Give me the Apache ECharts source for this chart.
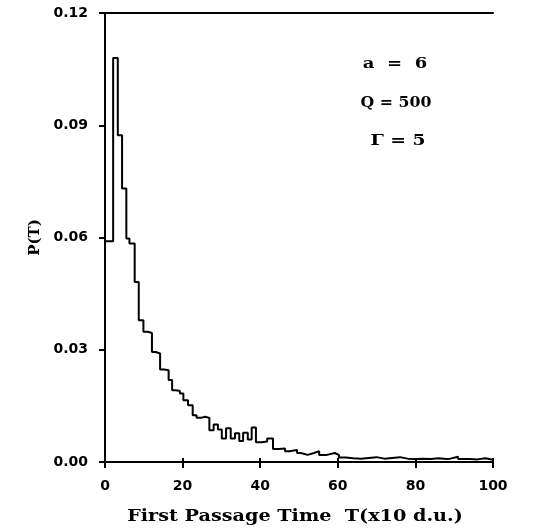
<!DOCTYPE html>
<html>
<head>
<meta charset="utf-8">
<script src="https://cdn.jsdelivr.net/npm/echarts@6/dist/echarts.min.js"></script>
<style>
html,body{margin:0;padding:0;background:#fff;}
#c{width:551px;height:532px;}
</style>
</head>
<body>
<div id="c"></div>
<script>
// bin start times (units of 10 d.u.) and probabilities
var binStart = [0, 2.1, 3.3, 4.4, 5.5, 6.3, 7.65, 8.7, 9.9, 11.0, 12.1, 13.1, 14.2, 15.3, 16.4, 17.3, 18.3, 19.3, 20.2, 21.4, 22.6, 23.6, 24.7, 25.8, 26.9, 28.0, 29.1, 30.1, 31.2, 32.4, 33.5, 34.6, 35.6, 36.8, 37.8, 38.9, 40.4, 41.8, 43.3, 44.8, 46.4, 47.5, 49.5, 50.5, 52.2, 53.9, 55.2, 57.2, 59.2, 60.3, 62, 64, 66, 68, 70, 72, 74, 76, 78, 80, 82, 84, 86, 88, 89, 91, 94, 96, 98, 100];
var probs = [0.059, 0.108, 0.0873, 0.0731, 0.0597, 0.0584, 0.0481, 0.0379, 0.0348, 0.0345, 0.0294, 0.0290, 0.0247, 0.0245, 0.0219, 0.0192, 0.0190, 0.0183, 0.0165, 0.0152, 0.0125, 0.0118, 0.0121, 0.0118, 0.0085, 0.0100, 0.0087, 0.0063, 0.0090, 0.0063, 0.0077, 0.0056, 0.0078, 0.0060, 0.0092, 0.0053, 0.0055, 0.0063, 0.0035, 0.0036, 0.0029, 0.0032, 0.0024, 0.0019, 0.0024, 0.0029, 0.0019, 0.0024, 0.0019, 0.0012, 0.0010, 0.0009, 0.0011, 0.0013, 0.0009, 0.0011, 0.0013, 0.0009, 0.0008, 0.0009, 0.0008, 0.0010, 0.0008, 0.0009, 0.0014, 0.0008, 0.0007, 0.0010, 0.0006, 0.0006];
var xTicks = [0, 20, 40, 60, 80, 100];
var yTicks = [0.00, 0.03, 0.06, 0.09, 0.12];
var notes = ['a  =  6', 'Q = 500', 'Γ = 5'];
var xTitle = 'First Passage Time  T(x10 d.u.)';
var yTitle = 'P(T)';

var chart = echarts.init(document.getElementById('c'), null, {renderer: 'canvas'});
var pts = binStart.map(function (t, i) { return [t, probs[i]]; });
var lbl = {fontFamily: 'DejaVu Sans', fontWeight: 'bold', fontSize: 14, color: '#000'};
var axLine = {lineStyle: {color: '#000', width: 2}};
var serif = 'DejaVu Serif';
var noteLayout = [{x: 395, y: 64, s: 1.2}, {x: 396, y: 103, s: 1.05}, {x: 398, y: 141, s: 1.25}];

chart.setOption({
  animation: false,
  backgroundColor: '#fff',
  grid: {left: 105, right: 58, top: 13, bottom: 70, containLabel: false},
  xAxis: [{
    type: 'value', min: 0, max: 100, interval: 20, position: 'bottom',
    axisLine: axLine,
    axisTick: {show: true, inside: false, length: 6, lineStyle: {color: '#000', width: 2}},
    axisLabel: Object.assign({margin: 17, formatter: function (v) { return String(v); }}, lbl),
    splitLine: {show: false}
  }, {
    type: 'value', min: 0, max: 100, interval: 20, position: 'bottom',
    axisLine: {show: false},
    axisTick: {show: true, inside: true, length: 4, lineStyle: {color: '#000', width: 2}},
    axisLabel: {show: false}, splitLine: {show: false}
  }, {
    type: 'value', min: 0, max: 100, position: 'top',
    axisLine: axLine, axisTick: {show: false}, axisLabel: {show: false}, splitLine: {show: false}
  }],
  yAxis: [{
    type: 'value', min: 0, max: 0.12, interval: 0.03, position: 'left',
    axisLine: axLine,
    axisTick: {show: true, inside: false, length: 6, lineStyle: {color: '#000', width: 2}},
    axisLabel: Object.assign({margin: 17, formatter: function (v) { return v.toFixed(2); }}, lbl),
    splitLine: {show: false},
    name: yTitle, nameLocation: 'middle', nameGap: 56, nameRotate: 90,
    nameTextStyle: {fontFamily: serif, fontWeight: 'bold', fontSize: 15, color: '#000'}
  }, {
    type: 'value', min: 0, max: 0.12, position: 'right',
    axisLine: axLine, axisTick: {show: false}, axisLabel: {show: false}, splitLine: {show: false}
  }],
  series: [{
    type: 'line', step: 'end', xAxisIndex: 0, yAxisIndex: 0,
    data: pts, symbol: 'none',
    lineStyle: {color: '#000', width: 2}
  }],
  graphic: [{
    type: 'text', x: 295, y: 517, scaleX: 1.2,
    style: {text: xTitle, fontFamily: serif, fontWeight: 'bold', fontSize: 16, fill: '#000', align: 'center', verticalAlign: 'middle'}
  }].concat(notes.map(function (t, i) {
    var L = noteLayout[i];
    return {
      type: 'text', x: L.x, y: L.y, scaleX: L.s,
      style: {text: t, fontFamily: serif, fontWeight: 'bold', fontSize: 15, fill: '#000', align: 'center', verticalAlign: 'middle'}
    };
  }))
});
</script>
</body>
</html>
